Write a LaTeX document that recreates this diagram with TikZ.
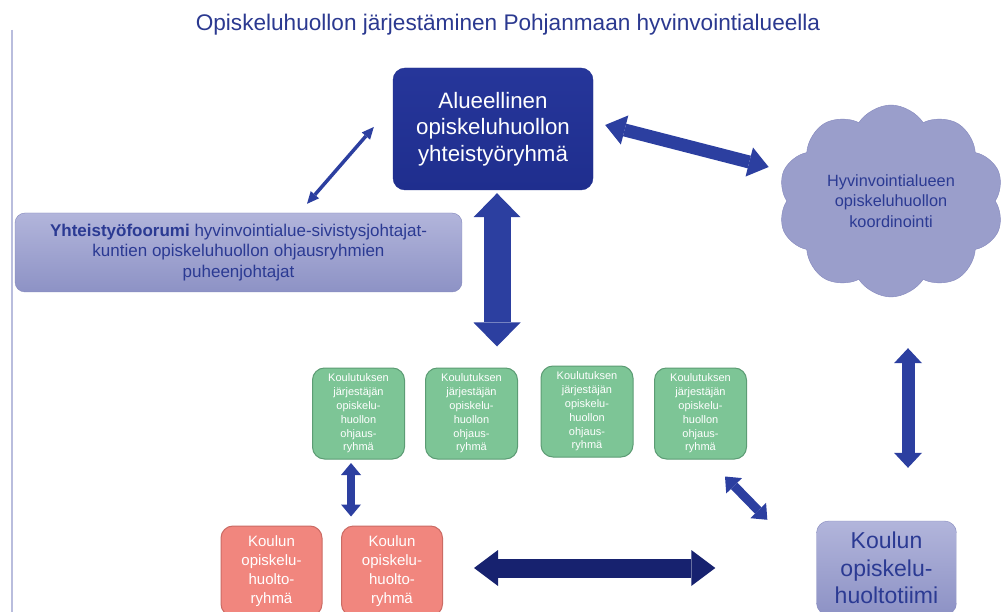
\documentclass[tikz,border=0pt]{standalone}
\usepackage{fontspec}
\setmainfont{Liberation Sans}
\usetikzlibrary{arrows.meta,shapes.symbols}
\definecolor{titleblue}{HTML}{2B3990}
\definecolor{mainblue}{HTML}{1F2E8E}
\definecolor{mainblue2}{HTML}{26369A}
\definecolor{lavtop}{HTML}{B2B5DB}
\definecolor{lavbot}{HTML}{8D92C5}
\definecolor{lavborder}{HTML}{8488BD}
\definecolor{cloudfill}{HTML}{9A9ECB}
\definecolor{darktext}{HTML}{2B3A93}
\definecolor{arrowblue}{HTML}{2C3FA0}
\definecolor{navy}{HTML}{17226F}
\definecolor{greenfill}{HTML}{7DC596}
\definecolor{greenborder}{HTML}{5C9C74}
\definecolor{pinkfill}{HTML}{F1867E}
\definecolor{pinkborder}{HTML}{CB6B64}
\definecolor{leftline}{HTML}{B9BDDD}
\tikzset{
  boxbase/.style={rectangle, rounded corners=12pt, inner sep=0pt, align=center},
  mainbox/.style={boxbase, top color=mainblue2, bottom color=mainblue, draw=mainblue,
    minimum width=200pt, minimum height=122pt, text=white, font=\fontsize{22.3}{26.5}\selectfont},
  lavbox/.style={boxbase, top color=lavtop, bottom color=lavbot, draw=lavborder, text=darktext},
  greenbox/.style={boxbase, fill=greenfill, draw=greenborder, line width=1pt,
    minimum width=92pt, minimum height=91pt, text=white, font=\fontsize{11}{13.8}\selectfont},
  pinkbox/.style={boxbase, fill=pinkfill, draw=pinkborder, line width=1pt,
    minimum width=101pt, minimum height=90pt, text=white, font=\fontsize{15}{19}\selectfont},
  dbl/.style n args={4}{line width=#1, draw=#4,
    arrows={{Triangle[width=#2,length=#3,line width=0pt]}-{Triangle[width=#2,length=#3,line width=0pt]}}},
}
\begin{document}
\begin{tikzpicture}[x=1pt,y=-1pt]
\useasboundingbox (0,0) rectangle (1004,612);
\fill[white] (0,0) rectangle (1004,612);
\node[text=titleblue, font=\fontsize{22.6}{26}\selectfont] (title) at (508,25)
  {Opiskeluhuollon järjestäminen Pohjanmaan hyvinvointialueella};
\draw[leftline, line width=1.5pt] (12,30) -- (12,612);

\node[mainbox] (main) at (493,129) {Alueellinen\\opiskeluhuollon\\yhteistyöryhmä};
\node[lavbox, rounded corners=10pt, minimum width=447pt, minimum height=79pt,
  font=\fontsize{17}{20.5}\selectfont] (yht) at (238.5,252.5)
  {\textbf{Yhteistyöfoorumi} hyvinvointialue-sivistysjohtajat-\\kuntien opiskeluhuollon ohjausryhmien\\puheenjohtajat};
\node[cloud, cloud puffs=10, cloud puff arc=115, cloud ignores aspect, fill=cloudfill, draw=lavborder,
  minimum width=226pt, minimum height=192pt, inner sep=0pt, align=center, text=darktext,
  font=\fontsize{16.3}{20.5}\selectfont] (cloud) at (891,201)
  {Hyvinvointialueen\\opiskeluhuollon\\koordinointi};

\node[greenbox] (g1) at (358.5,413.5) {Koulutuksen\\järjestäjän\\opiskelu-\\huollon\\ohjaus-\\ryhmä};
\node[greenbox] (g2) at (471.5,413.5) {Koulutuksen\\järjestäjän\\opiskelu-\\huollon\\ohjaus-\\ryhmä};
\node[greenbox] (g3) at (587,411.5) {Koulutuksen\\järjestäjän\\opiskelu-\\huollon\\ohjaus-\\ryhmä};
\node[greenbox] (g4) at (700.5,413.5) {Koulutuksen\\järjestäjän\\opiskelu-\\huollon\\ohjaus-\\ryhmä};

\node[pinkbox] (p1) at (271.5,571) {Koulun\\opiskelu-\\huolto-\\ryhmä};
\node[pinkbox] (p2) at (392,571) {Koulun\\opiskelu-\\huolto-\\ryhmä};
\node[lavbox, minimum width=140pt, minimum height=94pt, font=\fontsize{23}{27.5}\selectfont]
  (tiimi) at (886.5,568) {Koulun\\opiskelu-\\huoltotiimi};

% connectors
\draw[dbl={3.5pt}{11pt}{12pt}{arrowblue}] ([shift={(68.5,-9)}]yht.north) -- ([shift={(-19,-2)}]main.west);
\draw[dbl={27pt}{47pt}{24pt}{arrowblue}] ([shift={(4,3)}]main.south) -- ([shift={(25.5,-21)}]g2.north);
\draw[dbl={13pt}{30pt}{20pt}{arrowblue}] ([shift={(12,-4)}]main.east) -- ([shift={(-18,-34)}]cloud.west);
\draw[dbl={13pt}{28pt}{15pt}{arrowblue}] ([shift={(17,51)}]cloud.south) -- ([shift={(21.5,-53)}]tiimi.north);
\draw[dbl={8pt}{20pt}{12pt}{arrowblue}] ([shift={(-7.5,3.5)}]g1.south) -- ([shift={(-41,-9)}]p2.north);
\draw[dbl={9pt}{22pt}{13pt}{arrowblue}] ([shift={(24.5,17)}]g4.south) -- ([shift={(-49,-1)}]tiimi.north west);
\draw[dbl={19pt}{36pt}{24pt}{navy}] ([shift={(31,-3)}]p2.east) -- ([shift={(-101,0)}]tiimi.west);
\end{tikzpicture}
\end{document}
